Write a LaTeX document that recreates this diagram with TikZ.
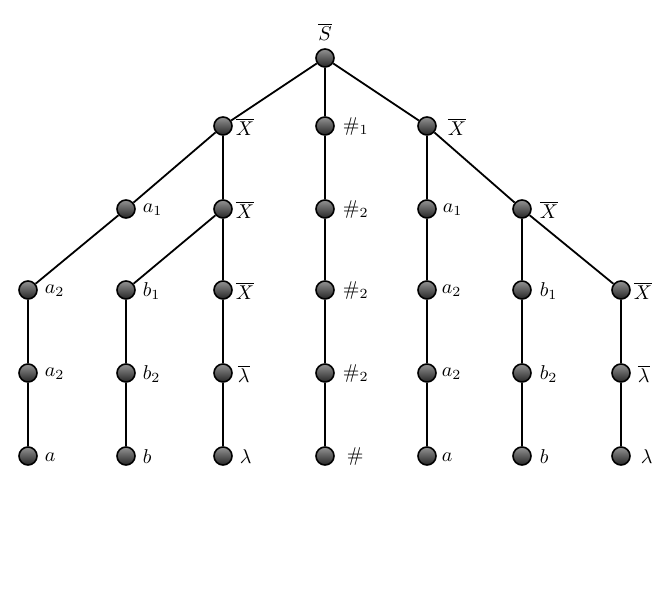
\documentclass[tikz,border=0pt]{standalone}
\usepackage{amsmath}
\usepackage{amssymb}
\usetikzlibrary{positioning}

\begin{document}
\begin{tikzpicture}[x=0.5pt,y=-0.5pt,line width=0.9pt,
		pallina/.style={circle, draw, line width=0.8pt, top color=gray!85, bottom color=black!85, minimum size=9pt, inner sep=0pt},
		nome/.style={anchor=west, inner sep=0pt}]
		\useasboundingbox (0,0) rectangle (664,598);
		% Radice
		\node [pallina] (S) at (325,58) {};
		% Livello 1
		\node [pallina] (X1) at (223,126) {};
		\node [pallina] (h1) at (325,126) {};
		\node [pallina] (X2) at (427,126) {};
		% Livello 2
		\node [pallina] (a1) at (126,209) {};
		\node [pallina] (X3) at (223,209) {};
		\node [pallina] (h2) at (325,209) {};
		\node [pallina] (a1d) at (427,209) {};
		\node [pallina] (X4) at (522,209) {};
		% Livello 3
		\node [pallina] (A2) at (28,290) {};
		\node [pallina] (B1) at (126,290) {};
		\node [pallina] (X5) at (223,290) {};
		\node [pallina] (h3) at (325,290) {};
		\node [pallina] (A2d) at (427,290) {};
		\node [pallina] (B1d) at (522,290) {};
		\node [pallina] (X6) at (621,290) {};
		% Livello 4
		\node [pallina] (A3) at (28,373) {};
		\node [pallina] (B2) at (126,373) {};
		\node [pallina] (L1) at (223,373) {};
		\node [pallina] (h4) at (325,373) {};
		\node [pallina] (A3d) at (427,373) {};
		\node [pallina] (B2d) at (522,373) {};
		\node [pallina] (L2) at (621,373) {};
		% Foglie
		\node [pallina] (a) at (28,456) {};
		\node [pallina] (b) at (126,456) {};
		\node [pallina] (l) at (223,456) {};
		\node [pallina] (h5) at (325,456) {};
		\node [pallina] (ad) at (427,456) {};
		\node [pallina] (bd) at (522,456) {};
		\node [pallina] (ld) at (621,456) {};
		% Rami
		\draw (S) -- (X1);
		\draw (S) -- (h1);
		\draw (S) -- (X2);
		\draw (X1) -- (a1) -- (A2) -- (A3) -- (a);
		\draw (X1) -- (X3) -- (B1) -- (B2) -- (b);
		\draw (X3) -- (X5) -- (L1) -- (l);
		\draw (h1) -- (h2) -- (h3) -- (h4) -- (h5);
		\draw (X2) -- (a1d) -- (A2d) -- (A3d) -- (ad);
		\draw (X2) -- (X4) -- (B1d) -- (B2d) -- (bd);
		\draw (X4) -- (X6) -- (L2) -- (ld);
		% NOMI
		\node [above=0pt of S] (nS) {$\overline{S}$};
		\node [nome] (nX1) at (235,127) {$\overline{X}$};
		\node [nome] (nh1) at (342,127) {$\#_1$};
		\node [nome] (nX2) at (447,127) {$\overline{X}$};
		\node [nome] (na1) at (142,210) {$a_1$};
		\node [nome] (nX3) at (235,210) {$\overline{X}$};
		\node [nome] (nh2) at (342,210) {$\#_2$};
		\node [nome] (na1d) at (442,210) {$a_1$};
		\node [nome] (nX4) at (539,210) {$\overline{X}$};
		\node [nome] (nA2) at (44,291) {$a_2$};
		\node [nome] (nB1) at (142,291) {$b_1$};
		\node [nome] (nX5) at (235,291) {$\overline{X}$};
		\node [nome] (nh3) at (342,291) {$\#_2$};
		\node [nome] (nA2d) at (441,291) {$a_2$};
		\node [nome] (nB1d) at (539,291) {$b_1$};
		\node [nome] (nX6) at (633,291) {$\overline{X}$};
		\node [nome] (nA3) at (44,374) {$a_2$};
		\node [nome] (nB2) at (142,374) {$b_2$};
		\node [nome] (nL1) at (237,374) {$\overline{\lambda}$};
		\node [nome] (nh4) at (342,374) {$\#_2$};
		\node [nome] (nA3d) at (441,374) {$a_2$};
		\node [nome] (nB2d) at (539,374) {$b_2$};
		\node [nome] (nL2) at (637,374) {$\overline{\lambda}$};
		\node [nome] (na) at (44,457) {$a$};
		\node [nome] (nb) at (142,457) {$b$};
		\node [nome] (nl) at (239,457) {$\lambda$};
		\node [nome] (nh5) at (346,457) {$\#$};
		\node [nome] (nad) at (441,457) {$a$};
		\node [nome] (nbd) at (539,457) {$b$};
		\node [nome] (nld) at (640,457) {$\lambda$};
	\end{tikzpicture}
\end{document}
